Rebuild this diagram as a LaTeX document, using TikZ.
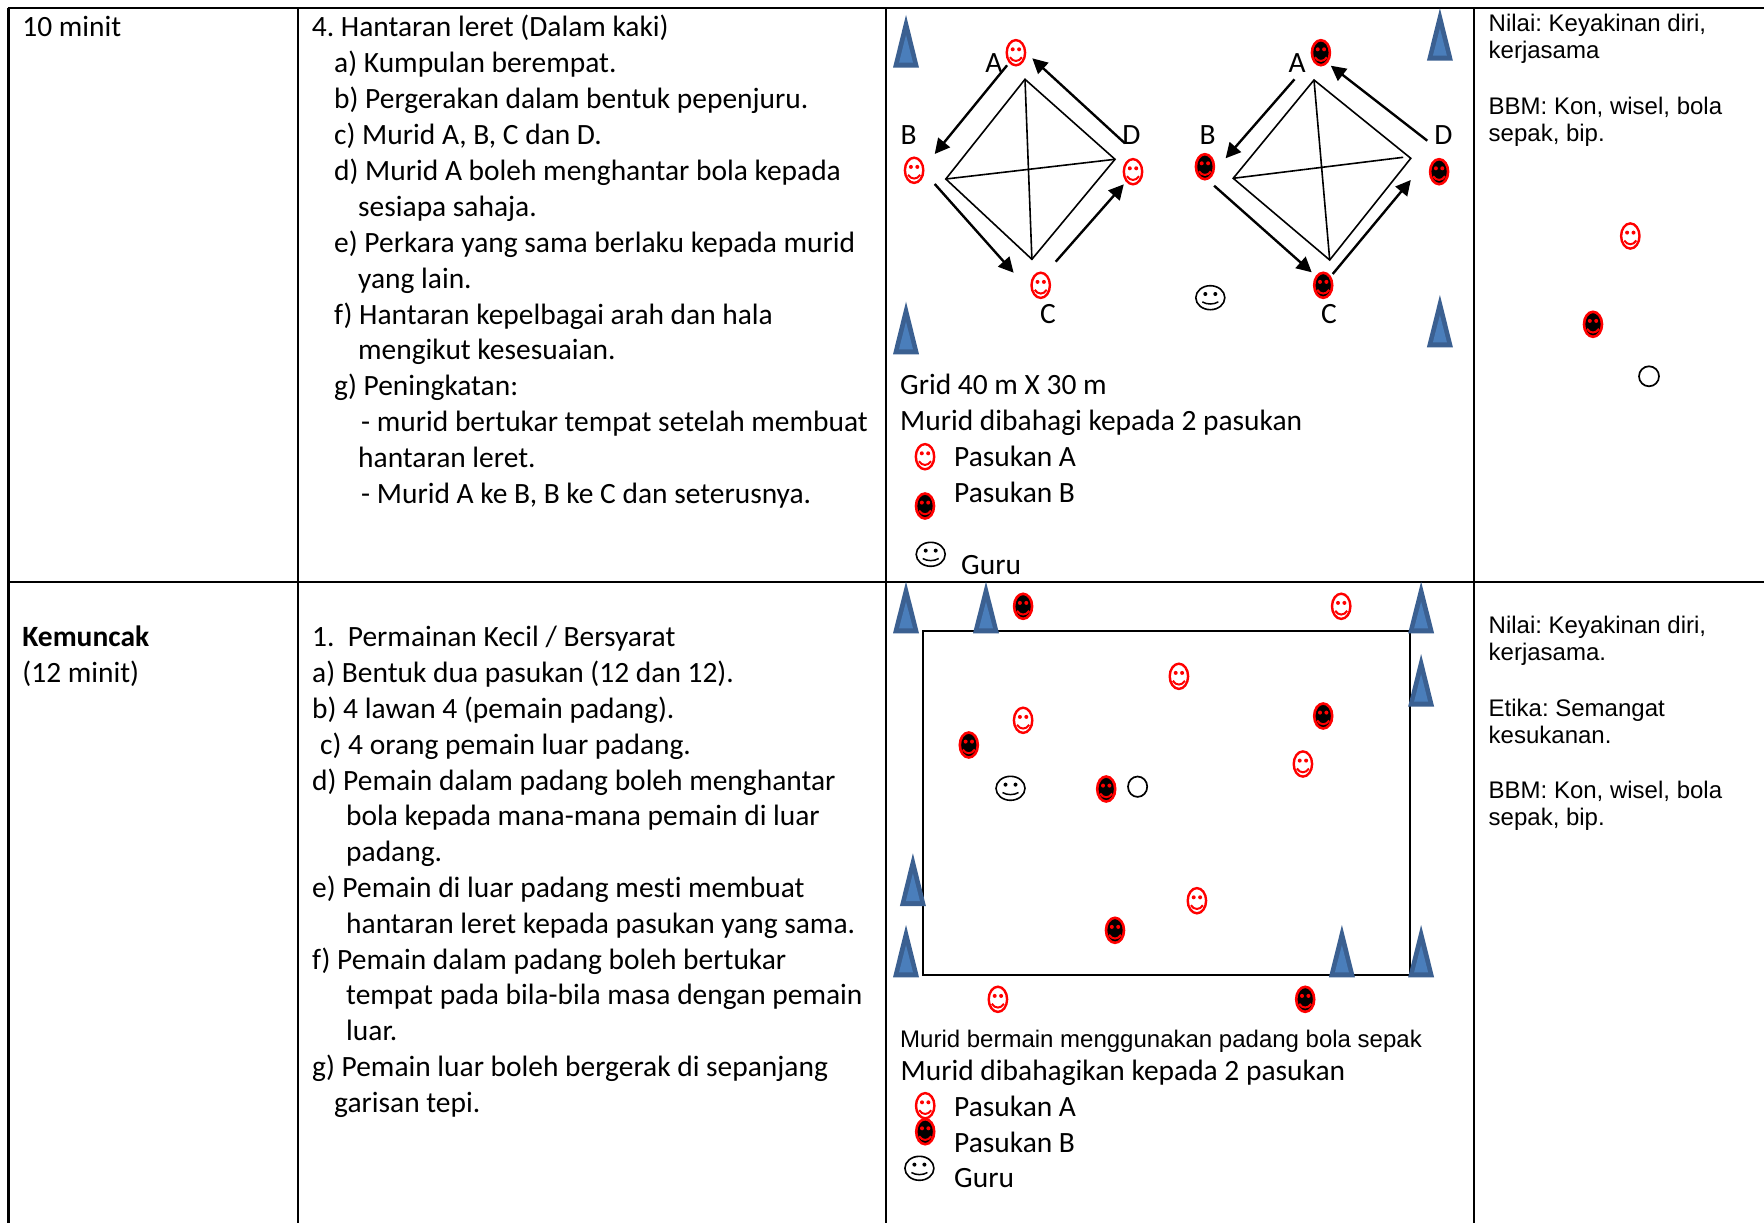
\documentclass[tikz,border=0pt]{standalone}
\usepackage{fontspec}
\setmainfont{Carlito}[Ligatures=CommonOff]
\newfontfamily\arialf{Liberation Sans}
\usetikzlibrary{arrows.meta}
\definecolor{coneDark}{HTML}{3B6091}
\definecolor{coneLight}{HTML}{4A7EBB}
\newcommand{\conemark}[3]{%
  \fill[coneDark] (#1-13,#3)--(#1,#2)--(#1+13,#3)--cycle;
  \fill[coneLight] (#1-7,#3-5)--(#1,#2+20)--(#1+7,#3-5)--cycle;}
\tikzset{
  body/.style={anchor=base west,inner sep=0pt,yshift=-1pt,font=\frenchspacing\fontsize{29.45}{36}\selectfont},
  side/.style={anchor=base west,inner sep=0pt,yshift=-0.8pt,font=\frenchspacing\arialf\fontsize{24}{28}\selectfont},
  letter/.style={anchor=base,inner sep=0pt,yshift=-1pt,font=\fontsize{29.45}{36}\selectfont},
  grid line/.style={line width=2.2pt,black},
  thin diag/.style={line width=1.6pt,black},
  move/.style={line width=2.4pt,black,-{Triangle[length=15pt,width=15pt]}},
  redface/.pic={
    \draw[red,line width=2.4pt,fill=white] (0,0) ellipse [x radius=9.2,y radius=12.6];
    \fill[red] (-3.2,-3.4) circle (2) (3.2,-3.4) circle (2);
    \draw[red,line width=2pt] (-6,4.5) .. controls (-3,9.5) and (3,9.5) .. (6,4.5);
  },
  blackface/.pic={
    \draw[red,line width=2.6pt,fill=black] (0,0) ellipse [x radius=9,y radius=12.5];
    \fill[red] (-3.2,-3.4) circle (2) (3.2,-3.4) circle (2);
    \draw[red,line width=2pt] (-6,4.5) .. controls (-3,9.5) and (3,9.5) .. (6,4.5);
  },
  teacherface/.pic={
    \draw[black,line width=1.6pt,fill=white] (0,0) ellipse [x radius=14.5,y radius=12];
    \fill[black] (-5,-3.7) circle (2) (5,-3.7) circle (2);
    \draw[black,line width=1.5pt] (-8,4.2) .. controls (-3.5,7) and (3.5,7) .. (8,4.2);
  },
}
\begin{document}
\begin{tikzpicture}[x=1pt,y=-1pt]
\useasboundingbox (0,0) rectangle (1764,1223);
\fill[white] (0,0) rectangle (1764,1223);
% table grid
\draw[grid line] (7.5,8)--(1764,8);
\draw[grid line] (7.5,582)--(1764,582);
\draw[grid line] (8.5,8)--(8.5,1223);
\draw[grid line] (298,8)--(298,1223);
\draw[grid line] (886,8)--(886,1223);
\draw[grid line] (1474,8)--(1474,1223);
% column 1
\node[body] (time1) at (22.2,35.8) {10 minit};
\node[body] (time2a) at (22.2,645) {\bfseries Kemuncak};
\node[body] (time2b) at (22.2,681) {(12 minit)};
% column 2 row 1
\node[body] (a0) at (311.7,35.8) {4. Hantaran leret (Dalam kaki)};
\node[body] (a1) at (334,71.7) {a) Kumpulan berempat.};
\node[body] (a2) at (334,107.6) {b) Pergerakan dalam bentuk pepenjuru.};
\node[body] (a3) at (334,143.5) {c) Murid A, B, C dan D.};
\node[body] (a4) at (334,179.4) {d) Murid A boleh menghantar bola kepada};
\node[body] (a5) at (358,215.3) {sesiapa sahaja.};
\node[body] (a6) at (334,251.2) {e) Perkara yang sama berlaku kepada murid};
\node[body] (a7) at (358,287.1) {yang lain.};
\node[body] (a8) at (334,323) {f) Hantaran kepelbagai arah dan hala};
\node[body] (a9) at (358,358.9) {mengikut kesesuaian.};
\node[body] (a10) at (334,394.8) {g) Peningkatan:};
\node[body] (a11) at (361,430.7) {- murid bertukar tempat setelah membuat};
\node[body] (a12) at (358,466.6) {hantaran leret.};
\node[body] (a13) at (361,502.5) {- Murid A ke B, B ke C dan seterusnya.};
% column 2 row 2
\node[body] (b0) at (312,645) {1.\ \ Permainan Kecil / Bersyarat};
\node[body] (b1) at (312,681) {a) Bentuk dua pasukan (12 dan 12).};
\node[body] (b2) at (312,717) {b) 4 lawan 4 (pemain padang).};
\node[body] (b3) at (320,753) {c) 4 orang pemain luar padang.};
\node[body] (b4) at (312,789.5) {d) Pemain dalam padang boleh menghantar};
\node[body] (b5) at (346,824.5) {bola kepada mana-mana pemain di luar};
\node[body] (b6) at (346,860.5) {padang.};
\node[body] (b7) at (312,896.5) {e) Pemain di luar padang mesti membuat};
\node[body] (b8) at (346,932.5) {hantaran leret kepada pasukan yang sama.};
\node[body] (b9) at (312,968.5) {f) Pemain dalam padang boleh bertukar};
\node[body] (b10) at (346,1003.5) {tempat pada bila-bila masa dengan pemain};
\node[body] (b11) at (346,1039.5) {luar.};
\node[body] (b12) at (312,1075.5) {g) Pemain luar boleh bergerak di sepanjang};
\node[body] (b13) at (334,1111.5) {garisan tepi.};
% column 3 row 1 cones
\conemark{906}{15}{67.7}
\conemark{1439.9}{8.3}{60.7}
\conemark{906}{301.7}{354.3}
\conemark{1439.9}{295}{347.3}
% diamond 1
\coordinate (d1t) at (1025,79.3);
\coordinate (d1l) at (945.8,179);
\coordinate (d1r) at (1115,159.3);
\coordinate (d1b) at (1031.9,259.3);
\draw[thin diag] (d1t)--(d1l)--(d1b)--(d1r)--cycle;
\draw[thin diag] (d1t)--(d1b);
\draw[thin diag] (d1l)--(d1r);
% diamond 2
\coordinate (d2t) at (1314,80);
\coordinate (d2l) at (1233.2,178.3);
\coordinate (d2r) at (1410.8,158.3);
\coordinate (d2b) at (1329.7,260);
\coordinate (d2x) at (1403.2,157.3);
\draw[thin diag] (d2t)--(d2l)--(d2b)--(d2r)--cycle;
\draw[thin diag] (d2t)--(d2b);
\draw[thin diag] (d2l)--(d2x);
% arrows 1
\coordinate (p1a) at (1007.1,65.3); \coordinate (p1b) at (934.7,154);
\coordinate (p1c) at (934.7,184); \coordinate (p1d) at (1013.6,272.7);
\coordinate (p1e) at (1055.7,261.7); \coordinate (p1f) at (1123.8,184.3);
\coordinate (p1g) at (1124.9,143.3); \coordinate (p1h) at (1032.3,58.3);
\draw[move] (p1a)--(p1b);
\draw[move] (p1c)--(p1d);
\draw[move] (p1e)--(p1f);
\draw[move] (p1g)--(p1h);
% arrows 2
\coordinate (p2a) at (1294.5,79.3); \coordinate (p2b) at (1225.6,158.3);
\coordinate (p2c) at (1214.1,185.7); \coordinate (p2d) at (1311.7,272.3);
\coordinate (p2e) at (1332.7,274); \coordinate (p2f) at (1410.8,180);
\coordinate (p2g) at (1427.3,140.7); \coordinate (p2h) at (1330.8,65.7);
\draw[move] (p2a)--(p2b);
\draw[move] (p2c)--(p2d);
\draw[move] (p2e)--(p2f);
\draw[move] (p2g)--(p2h);
% faces row 1
\pic at (1015.9,52.7) {redface};
\pic at (914.1,170.3) {redface};
\pic at (1133,171.7) {redface};
\pic at (1040.7,285.3) {redface};
\pic at (1320.9,52.7) {blackface};
\pic at (1204.9,166.7) {blackface};
\pic at (1439.1,171.7) {blackface};
\pic at (1323.2,285.3) {blackface};
\pic at (1210.3,297.7) {teacherface};
% letters
\node[letter] (l1a) at (994,71.7) {A};
\node[letter] (l1b) at (908.7,143.3) {B};
\node[letter] (l1d) at (1131.4,143.3) {D};
\node[letter] (l1c) at (1048,322.3) {C};
\node[letter] (l2a) at (1297.1,71.7) {A};
\node[letter] (l2b) at (1207.6,143.3) {B};
\node[letter] (l2d) at (1443.3,143.3) {D};
\node[letter] (l2c) at (1328.9,322.3) {C};
% legend row 1
\node[body] (g1) at (900,393.3) {Grid 40 m X 30 m};
\node[body] (g2) at (900,429.3) {Murid dibahagi kepada 2 pasukan};
\pic at (925,456.7) {redface};
\node[body] (g3) at (954,465.3) {Pasukan A};
\pic at (925,506) {blackface};
\node[body] (g4) at (954,501.7) {Pasukan B};
\pic at (930.7,554.3) {teacherface};
\node[body] (g5) at (961,573.3) {Guru};
% column 4 row 1
\node[side] (s1) at (1488.5,30.7) {Nilai: Keyakinan diri,};
\node[side] (s2) at (1488.5,58) {kerjasama};
\node[side] (s3) at (1488.5,114) {BBM: Kon, wisel, bola};
\node[side] (s4) at (1488.5,141) {sepak, bip.};
\pic at (1630.3,236) {redface};
\pic at (1593,324.3) {blackface};
\draw[line width=1.7pt,black] (1649,376.3) circle (10);
% field
\draw[line width=1.8pt,black] (923.2,631) rectangle (1410,975);
\conemark{906}{581.7}{633.3}
\conemark{986}{581.7}{633.3}
\conemark{1421.1}{581.7}{633.3}
\conemark{1421.1}{654}{706.7}
\conemark{912.9}{853.3}{906}
\conemark{906}{925}{977.3}
\conemark{1341.9}{925}{977.3}
\conemark{1421.1}{925}{977.3}
\pic at (1023.1,606.3) {blackface};
\pic at (1341.2,606.3) {redface};
\pic at (1178.9,676.3) {redface};
\pic at (1323.2,716) {blackface};
\pic at (1023.1,720.3) {redface};
\pic at (968.8,745) {blackface};
\pic at (1302.9,764) {redface};
\pic at (1106.2,789) {blackface};
\draw[line width=1.7pt,black] (1137.6,786.7) ellipse [x radius=9.6,y radius=10.2];
\pic at (1010.5,788.3) {teacherface};
\pic at (1196.9,900.7) {redface};
\pic at (1115,930.3) {blackface};
\pic at (997.9,999.3) {redface};
\pic at (1305.2,999.3) {blackface};
% legend row 2
\node[side] (h1) at (900,1046.7) {Murid bermain menggunakan padang bola sepak};
\node[body] (h2) at (900.5,1079.3) {Murid dibahagikan kepada 2 pasukan};
\pic at (925.2,1105.7) {redface};
\node[body] (h3) at (954,1115.7) {Pasukan A};
\pic at (925.2,1131.7) {blackface};
\node[body] (h4) at (954,1151.7) {Pasukan B};
\pic at (919.4,1168.3) {teacherface};
\node[body] (h5) at (954,1186.7) {Guru};
% column 4 row 2
\node[side] (r1) at (1488.5,632.7) {Nilai: Keyakinan diri,};
\node[side] (r2) at (1488.5,660) {kerjasama.};
\node[side] (r3) at (1488.5,715.7) {Etika: Semangat};
\node[side] (r4) at (1488.5,742.7) {kesukanan.};
\node[side] (r5) at (1488.5,797.7) {BBM: Kon, wisel, bola};
\node[side] (r6) at (1488.5,825) {sepak, bip.};
\end{tikzpicture}
\end{document}
